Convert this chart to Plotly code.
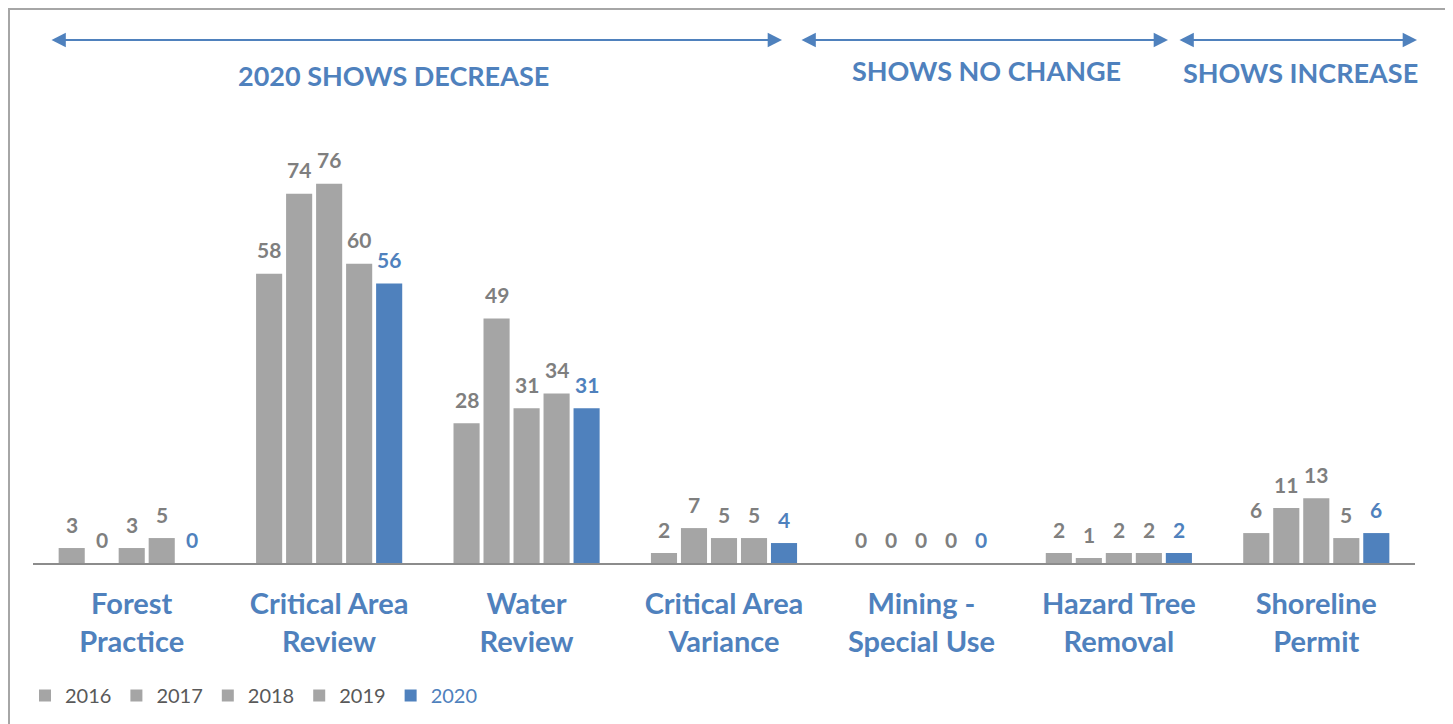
import plotly.graph_objects as go

categories = ["Forest<br>Practice", "Critical Area<br>Review", "Water<br>Review",
              "Critical Area<br>Variance", "Mining -<br>Special Use",
              "Hazard Tree<br>Removal", "Shoreline<br>Permit"]
years = ["2016", "2017", "2018", "2019", "2020"]
v2016 = [3, 58, 28, 2, 0, 2, 6]
v2017 = [0, 74, 49, 7, 0, 1, 11]
v2018 = [3, 76, 31, 5, 0, 2, 13]
v2019 = [5, 60, 34, 5, 0, 2, 5]
v2020 = [0, 56, 31, 4, 0, 2, 6]
series = [v2016, v2017, v2018, v2019, v2020]
headers = ["2020 SHOWS DECREASE", "SHOWS NO CHANGE", "SHOWS INCREASE"]

GRAY = "#a5a5a5"
BLUE = "#4f81bd"
LABEL_GRAY = "#7f7f7f"
FONT = "Lato"

# page offset (body margin) compensation
OX, OY = 8, 8
W, H = 1445, 716
L = 33 - OX
T = 114 - OY
R = W - (1415 - OX)
B = H - (563 - OY)
pw, ph = W - L - R, H - T - B

def px_x(x):
    return (x - OX - L) / pw

def px_y(y):
    return (H - B - (y - OY)) / ph

fig = go.Figure()
for yr, vals in zip(years, series):
    is_last = yr == "2020"
    col = BLUE if is_last else GRAY
    name = f"<span style='color:{BLUE}'>{yr}</span>" if is_last else yr
    fig.add_trace(go.Bar(
        x=categories, y=vals, name=name,
        marker=dict(color=col, line=dict(width=0)),
        cliponaxis=False,
    ))

# data labels
PITCH = 30
for i, (yr, vals) in enumerate(zip(years, series)):
    col = BLUE if yr == "2020" else LABEL_GRAY
    for c, v in zip(categories, vals):
        fig.add_annotation(x=c, y=v, xref="x", yref="y", text=f"<b>{v}</b>",
                           showarrow=False, xshift=(i - 2) * PITCH, yshift=24,
                           yanchor="middle", xanchor="center",
                           font=dict(family=FONT, size=21, color=col))

fig.update_layout(
    width=W, height=H,
    margin=dict(l=L, r=R, t=T, b=B, autoexpand=False),
    paper_bgcolor="white", plot_bgcolor="white",
    barmode="group", bargap=0.24, bargroupgap=0.13,
    font=dict(family=FONT),
    showlegend=True,
    legend=dict(orientation="h", x=px_x(25), xanchor="left", y=px_y(676), yanchor="top",
                font=dict(family=FONT, size=20, color="#595959"),
                itemwidth=30, tracegroupgap=0, traceorder="normal"),
    xaxis=dict(showline=True, linecolor="#8c8c8c", linewidth=2, ticks="",
               tickfont=dict(family=FONT, size=29, color=BLUE, weight="bold"),
               ticklabelstandoff=14, showgrid=False, zeroline=False, automargin=False),
    yaxis=dict(range=[0, 90], visible=False, showgrid=False, zeroline=False),
)

# outer border
fig.add_shape(type="rect", xref="paper", yref="paper",
              x0=px_x(9), x1=px_x(1446), y0=px_y(760), y1=px_y(9),
              line=dict(color="#a6a6a6", width=2), fillcolor="rgba(0,0,0,0)", layer="below")

# arrows
arrow_spans = [(50, 782), (800, 1168), (1178, 1417)]
for x0, x1 in arrow_spans:
    fig.add_annotation(xref="paper", yref="paper", axref="pixel", ayref="pixel",
                       x=px_x(x1), y=px_y(40), ax=-(x1 - x0), ay=0,
                       text="", showarrow=True, arrowhead=2, arrowside="end+start",
                       arrowsize=1.3, arrowwidth=2.2, arrowcolor=BLUE, standoff=0, startstandoff=0)

header_pos = [(393, 75), (986, 71), (1300, 72)]
for txt, (cx, cy) in zip(headers, header_pos):
    fig.add_annotation(xref="paper", yref="paper", x=px_x(cx), y=px_y(cy),
                       text=f"<b>{txt}</b>", showarrow=False,
                       font=dict(family=FONT, size=27, color=BLUE),
                       xanchor="center", yanchor="middle")

fig.write_html("out.html")
